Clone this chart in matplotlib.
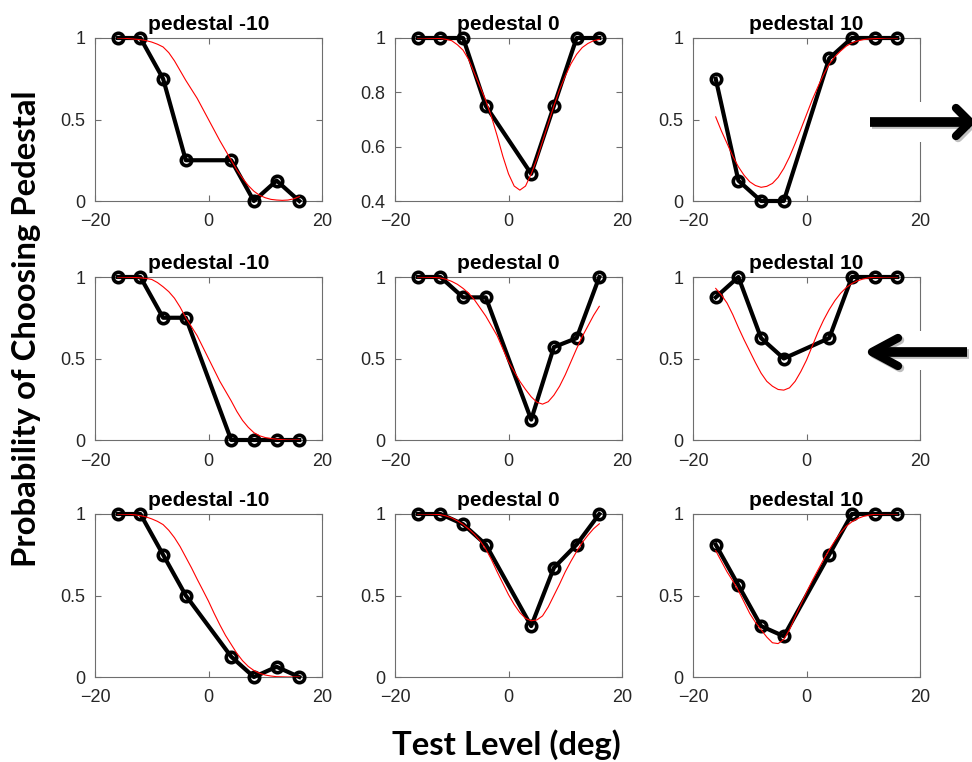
import matplotlib
matplotlib.use('Agg')
import matplotlib.pyplot as plt
import matplotlib.patheffects as pe
from matplotlib.patches import Rectangle

# test levels (deg) and the points where the fitted curves were read
levels = [-16, -12, -8, -4, 4, 8, 12, 16]
fit_x = list(range(-16, 17))

titles = ['pedestal -10', 'pedestal 0', 'pedestal 10']

# observed proportions, row by row
obs_r1 = [
    [1, 1, 0.75, 0.25, 0.25, 0, 0.125, 0],
    [1, 1, 1, 0.75, 0.5, 0.75, 1, 1],
    [0.75, 0.125, 0, 0, 0.875, 1, 1, 1],
]
obs_r2 = [
    [1, 1, 0.75, 0.75, 0, 0, 0, 0],
    [1, 1, 0.875, 0.875, 0.125, 0.57, 0.625, 1],
    [0.875, 1, 0.625, 0.5, 0.625, 1, 1, 1],
]
obs_r3 = [
    [1, 1, 0.75, 0.5, 0.125, 0, 0.0625, 0],
    [1, 1, 0.9375, 0.8125, 0.3125, 0.67, 0.8125, 1],
    [0.8125, 0.5625, 0.3125, 0.25, 0.75, 1, 1, 1],
]

fit_r1 = [
    [1.0, 0.999, 0.996, 0.993, 0.99, 0.984, 0.975, 0.962, 0.945, 0.91, 0.86, 0.80, 0.74, 0.685, 0.63, 0.565,
     0.50, 0.435, 0.37, 0.31, 0.25, 0.19, 0.14, 0.095, 0.06, 0.035, 0.02, 0.01, 0.006, 0.004, 0.006, 0.013, 0.027],
    [1.0, 1.0, 0.999, 0.999, 0.998, 0.995, 0.99, 0.975, 0.955, 0.92, 0.87, 0.82, 0.77, 0.71, 0.64, 0.565,
     0.50, 0.455, 0.44, 0.455, 0.50, 0.555, 0.62, 0.685, 0.75, 0.81, 0.86, 0.905, 0.94, 0.965, 0.98, 0.99, 0.995],
    [0.516, 0.43, 0.353, 0.275, 0.21, 0.158, 0.118, 0.095, 0.084, 0.09, 0.108, 0.145, 0.2, 0.27, 0.353, 0.44,
     0.53, 0.62, 0.70, 0.775, 0.84, 0.885, 0.92, 0.95, 0.97, 0.982, 0.99, 0.994, 0.996, 0.998, 1.0, 1.0, 1.0],
]
fit_r2 = [
    [1.0, 0.999, 0.998, 0.997, 0.995, 0.991, 0.985, 0.966, 0.94, 0.91, 0.87, 0.815, 0.75, 0.695, 0.64, 0.57,
     0.50, 0.43, 0.36, 0.30, 0.24, 0.175, 0.12, 0.078, 0.045, 0.026, 0.015, 0.009, 0.005, 0.002, 0.0, 0.0, 0.0],
    [1.0, 0.999, 0.998, 0.997, 0.994, 0.986, 0.973, 0.955, 0.93, 0.9, 0.86, 0.81, 0.76, 0.70, 0.64, 0.56,
     0.48, 0.42, 0.36, 0.31, 0.265, 0.232, 0.22, 0.235, 0.275, 0.33, 0.40, 0.48, 0.56, 0.635, 0.70, 0.765, 0.82],
    [0.93, 0.89, 0.84, 0.77, 0.69, 0.615, 0.545, 0.475, 0.41, 0.36, 0.33, 0.31, 0.306, 0.32, 0.36, 0.42,
     0.49, 0.575, 0.66, 0.735, 0.80, 0.855, 0.90, 0.935, 0.96, 0.977, 0.988, 0.995, 0.998, 0.999, 1.0, 1.0, 1.0],
]
fit_r3 = [
    [1.0, 0.999, 0.998, 0.995, 0.99, 0.982, 0.97, 0.955, 0.935, 0.9, 0.855, 0.8, 0.735, 0.67, 0.6, 0.533,
     0.465, 0.39, 0.32, 0.255, 0.2, 0.145, 0.1, 0.065, 0.04, 0.023, 0.012, 0.006, 0.002, 0.001, 0.0, 0.0, 0.0],
    [1.0, 1.0, 0.999, 0.998, 0.996, 0.988, 0.976, 0.958, 0.936, 0.908, 0.875, 0.835, 0.785, 0.72, 0.645, 0.575,
     0.505, 0.445, 0.395, 0.36, 0.345, 0.35, 0.375, 0.43, 0.50, 0.57, 0.645, 0.71, 0.77, 0.825, 0.87, 0.91, 0.94],
    [0.775, 0.71, 0.645, 0.59, 0.53, 0.46, 0.39, 0.335, 0.29, 0.245, 0.21, 0.205, 0.23, 0.29, 0.37, 0.445,
     0.52, 0.59, 0.655, 0.72, 0.78, 0.835, 0.885, 0.925, 0.952, 0.972, 0.985, 0.993, 0.998, 0.999, 1.0, 1.0, 1.0],
]

obs = [obs_r1, obs_r2, obs_r3]
fits = [fit_r1, fit_r2, fit_r3]

plt.rcParams['font.family'] = ['Liberation Sans', 'DejaVu Sans']

W, H = 972, 762
fig = plt.figure(figsize=(W / 100, H / 100), dpi=100, facecolor='w')

col_left = [95, 395, 693]
row_top = [38, 277, 514]
aw, ah = 227, 163

for r in range(3):
    for c in range(3):
        ax = fig.add_axes([col_left[c] / W, 1 - (row_top[r] + ah) / H, aw / W, ah / H])
        ax.plot(levels, obs[r][c], '-o', color='k', lw=3, ms=7.5, mew=2.6,
                mfc='none', clip_on=False, zorder=3)
        ax.plot(fit_x, fits[r][c], color='r', lw=0.8, zorder=4)
        ax.set_xlim(-20, 20)
        ax.set_xticks([-20, 0, 20])
        if r == 0 and c == 1:
            ax.set_ylim(0.4, 1)
            ax.set_yticks([0.4, 0.6, 0.8, 1])
            ax.set_yticklabels(['0.4', '0.6', '0.8', '1'])
        else:
            ax.set_ylim(0, 1)
            ax.set_yticks([0, 0.5, 1])
            ax.set_yticklabels(['0', '0.5', '1'])
        for s in ax.spines.values():
            s.set_color('#6e6e6e')
            s.set_linewidth(0.8)
        ax.tick_params(direction='in', length=4, width=0.8, color='#6e6e6e',
                       labelcolor='#262626', labelsize=13, top=True, right=True, pad=7)
        ax.tick_params(axis='x', pad=9)
        ax.set_title(titles[c], fontsize=15, fontweight='bold', pad=6)

fig.text(27 / W, 1 - 329 / H, 'Probability of Choosing Pedestal', rotation=90,
         ha='center', va='center', fontsize=23.7, fontweight='bold', family=['Lato', 'DejaVu Sans'])
fig.text(506 / W, 1 - 755 / H, 'Test Level (deg)', ha='center', va='baseline',
         fontsize=23.7, fontweight='bold', family=['Lato', 'DejaVu Sans'])

# overlay for the two arrows, in pixel units
ov = fig.add_axes([0, 0, 1, 1])
ov.set_xlim(0, W)
ov.set_ylim(H, 0)
ov.axis('off')
ov.add_patch(Rectangle((912, 102), 14, 40, color='w', lw=0))
ov.add_patch(Rectangle((912, 331), 14, 39, color='w', lw=0))

shadow = [pe.SimpleLineShadow(offset=(1.5, -1.5), alpha=0.25), pe.Normal()]
# right arrow (row 1)
ov.plot([870, 968], [122, 122], color='k', lw=7, solid_capstyle='butt', path_effects=shadow)
ov.plot([956, 970, 956], [108, 122, 136], color='k', lw=6, solid_capstyle='round',
        solid_joinstyle='round', path_effects=shadow)
# left arrow (row 2)
ov.plot([876, 967], [352, 352], color='k', lw=7, solid_capstyle='butt', path_effects=shadow)
ov.plot([898, 872, 898], [338, 352, 366], color='k', lw=6, solid_capstyle='round',
        solid_joinstyle='round', path_effects=shadow)

fig.savefig('out.png', dpi=100, facecolor='w')
